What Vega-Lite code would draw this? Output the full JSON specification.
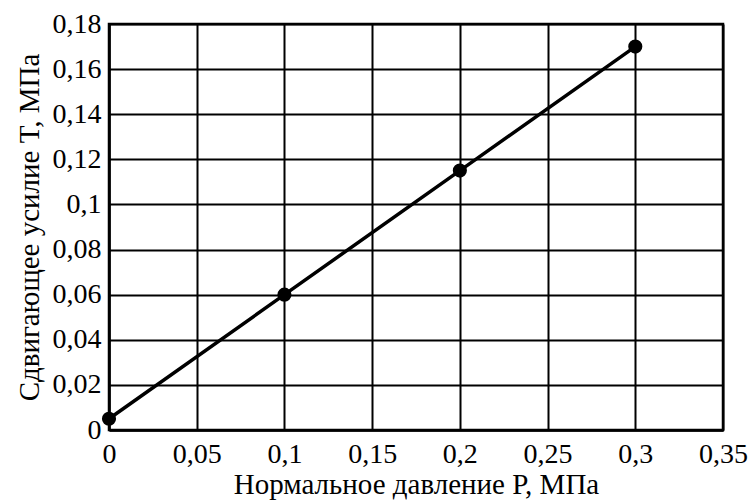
{
  "$schema": "https://vega.github.io/schema/vega-lite/v6.json",
  "width": 614,
  "height": 406,
  "autosize": {"type": "none"},
  "padding": {"left": 109, "top": 24, "right": 31, "bottom": 72},
  "background": "white",
  "data": {"values": [
    {"P": 0, "T": 0.005},
    {"P": 0.1, "T": 0.06},
    {"P": 0.2, "T": 0.115},
    {"P": 0.3, "T": 0.17}
  ]},
  "encoding": {
    "x": {"field": "P", "type": "quantitative",
      "scale": {"domain": [0, 0.35], "nice": false, "zero": false},
      "axis": {"title": "Нормальное давление P, МПа", "values": [0, 0.05, 0.1, 0.15, 0.2, 0.25, 0.3, 0.35],
        "format": "~g", "formatType": "number",
        "labelFont": "Liberation Serif", "labelFontSize": 28, "labelColor": "black",
        "titleFont": "Liberation Serif", "titleFontSize": 29, "titleFontWeight": "normal", "titleColor": "black",
        "grid": true, "ticks": false, "labelPadding": 10, "titlePadding": 2, "labelFlush": false}},
    "y": {"field": "T", "type": "quantitative",
      "scale": {"domain": [0, 0.18], "nice": false, "zero": false},
      "axis": {"title": "Сдвигающее усилие T, МПа", "values": [0, 0.02, 0.04, 0.06, 0.08, 0.1, 0.12, 0.14, 0.16, 0.18],
        "format": "~g", "formatType": "number",
        "labelFont": "Liberation Serif", "labelFontSize": 28, "labelColor": "black",
        "titleFont": "Liberation Serif", "titleFontSize": 29, "titleFontWeight": "normal", "titleColor": "black",
        "grid": true, "ticks": false, "labelPadding": 8, "titlePadding": 8, "labelFlush": false}}
  },
  "layer": [
    {"mark": {"type": "line", "color": "black", "strokeWidth": 3.5}},
    {"mark": {"type": "point", "filled": true, "color": "black", "size": 200, "opacity": 1}}
  ],
  "config": {
    "font": "Liberation Serif",
    "locale": {"number": {"decimal": ",", "thousands": " ", "grouping": [3], "currency": ["", ""]}},
    "view": {"stroke": "black", "strokeWidth": 2.5},
    "axis": {
      "gridColor": "black", "gridOpacity": 1, "gridWidth": 2,
      "domainColor": "black", "domainWidth": 2.5
    }
  }
}
